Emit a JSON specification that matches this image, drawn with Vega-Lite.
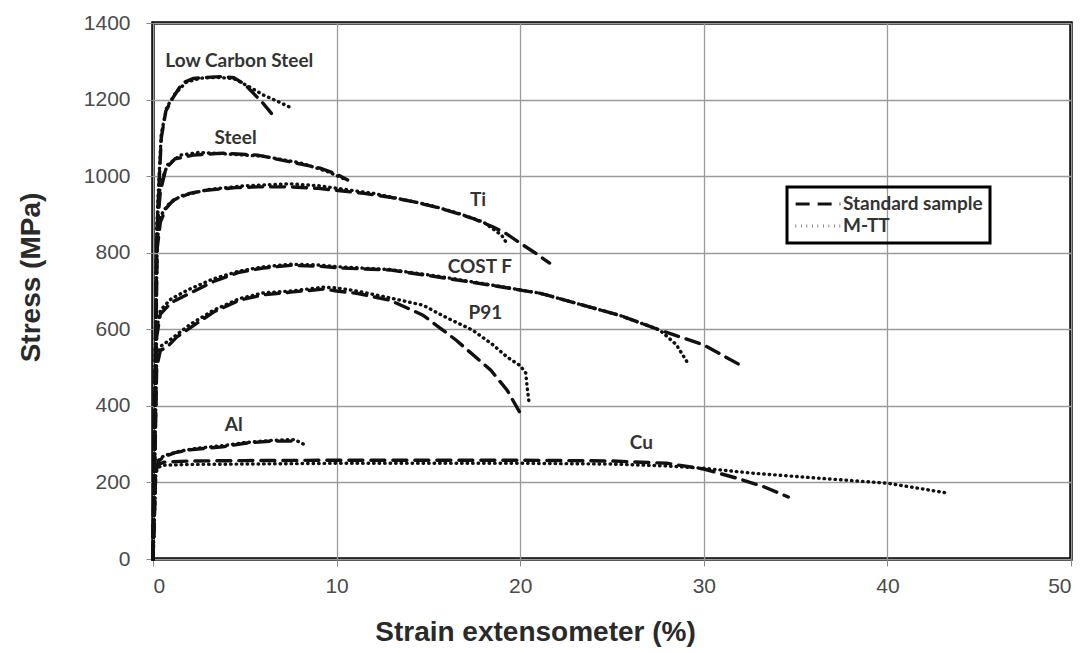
{
  "$schema": "https://vega.github.io/schema/vega-lite/v6.json",
  "width": 918,
  "height": 536,
  "autosize": "none",
  "padding": {"left": 153, "top": 23, "right": 16, "bottom": 94},
  "background": "white",
  "config": {
    "view": {"stroke": "#000", "strokeWidth": 3.5},
    "axis": {
      "gridColor": "#9a9a9a", "gridWidth": 1.3, "domain": false,
      "tickColor": "#888", "tickSize": 7, "tickWidth": 1,
      "labelFont": "Liberation Sans", "labelFontSize": 21, "labelColor": "#4a4a4a",
      "titleFont": "Liberation Sans", "titleFontWeight": "bold", "titleColor": "#2a2a2a"
    }
  },
  "datasets": {
    "curves": [
      {"material": "Low Carbon Steel", "sample": "Standard sample", "x": 0, "y": 0},
      {"material": "Low Carbon Steel", "sample": "Standard sample", "x": 0.25, "y": 900},
      {"material": "Low Carbon Steel", "sample": "Standard sample", "x": 0.45, "y": 1100},
      {"material": "Low Carbon Steel", "sample": "Standard sample", "x": 0.7, "y": 1170},
      {"material": "Low Carbon Steel", "sample": "Standard sample", "x": 1.1, "y": 1206},
      {"material": "Low Carbon Steel", "sample": "Standard sample", "x": 1.6, "y": 1243},
      {"material": "Low Carbon Steel", "sample": "Standard sample", "x": 2.2, "y": 1255},
      {"material": "Low Carbon Steel", "sample": "Standard sample", "x": 2.9, "y": 1258},
      {"material": "Low Carbon Steel", "sample": "Standard sample", "x": 3.7, "y": 1260},
      {"material": "Low Carbon Steel", "sample": "Standard sample", "x": 4.4, "y": 1257},
      {"material": "Low Carbon Steel", "sample": "Standard sample", "x": 5.0, "y": 1240},
      {"material": "Low Carbon Steel", "sample": "Standard sample", "x": 5.5, "y": 1215},
      {"material": "Low Carbon Steel", "sample": "Standard sample", "x": 6.0, "y": 1190},
      {"material": "Low Carbon Steel", "sample": "Standard sample", "x": 6.45, "y": 1164},
      {"material": "Low Carbon Steel", "sample": "M-TT", "x": 0, "y": 0},
      {"material": "Low Carbon Steel", "sample": "M-TT", "x": 0.25, "y": 920},
      {"material": "Low Carbon Steel", "sample": "M-TT", "x": 0.45, "y": 1110},
      {"material": "Low Carbon Steel", "sample": "M-TT", "x": 0.75, "y": 1180},
      {"material": "Low Carbon Steel", "sample": "M-TT", "x": 1.2, "y": 1215},
      {"material": "Low Carbon Steel", "sample": "M-TT", "x": 1.8, "y": 1245},
      {"material": "Low Carbon Steel", "sample": "M-TT", "x": 2.6, "y": 1256},
      {"material": "Low Carbon Steel", "sample": "M-TT", "x": 3.5, "y": 1258},
      {"material": "Low Carbon Steel", "sample": "M-TT", "x": 4.4, "y": 1255},
      {"material": "Low Carbon Steel", "sample": "M-TT", "x": 5.3, "y": 1232},
      {"material": "Low Carbon Steel", "sample": "M-TT", "x": 6.0, "y": 1212},
      {"material": "Low Carbon Steel", "sample": "M-TT", "x": 6.8, "y": 1195},
      {"material": "Low Carbon Steel", "sample": "M-TT", "x": 7.55, "y": 1178},

      {"material": "Steel", "sample": "Standard sample", "x": 0, "y": 0},
      {"material": "Steel", "sample": "Standard sample", "x": 0.2, "y": 850},
      {"material": "Steel", "sample": "Standard sample", "x": 0.4, "y": 960},
      {"material": "Steel", "sample": "Standard sample", "x": 0.7, "y": 1020},
      {"material": "Steel", "sample": "Standard sample", "x": 1.2, "y": 1045},
      {"material": "Steel", "sample": "Standard sample", "x": 2.2, "y": 1055},
      {"material": "Steel", "sample": "Standard sample", "x": 3.8, "y": 1060},
      {"material": "Steel", "sample": "Standard sample", "x": 5.7, "y": 1055},
      {"material": "Steel", "sample": "Standard sample", "x": 7.5, "y": 1037},
      {"material": "Steel", "sample": "Standard sample", "x": 9.1, "y": 1021},
      {"material": "Steel", "sample": "Standard sample", "x": 10.0, "y": 1005},
      {"material": "Steel", "sample": "Standard sample", "x": 10.6, "y": 990},
      {"material": "Steel", "sample": "M-TT", "x": 0, "y": 0},
      {"material": "Steel", "sample": "M-TT", "x": 0.2, "y": 870},
      {"material": "Steel", "sample": "M-TT", "x": 0.4, "y": 980},
      {"material": "Steel", "sample": "M-TT", "x": 0.8, "y": 1030},
      {"material": "Steel", "sample": "M-TT", "x": 1.5, "y": 1055},
      {"material": "Steel", "sample": "M-TT", "x": 2.5, "y": 1062},
      {"material": "Steel", "sample": "M-TT", "x": 4.0, "y": 1058},
      {"material": "Steel", "sample": "M-TT", "x": 6.0, "y": 1052},
      {"material": "Steel", "sample": "M-TT", "x": 8.0, "y": 1035},
      {"material": "Steel", "sample": "M-TT", "x": 9.5, "y": 1012},
      {"material": "Steel", "sample": "M-TT", "x": 10.4, "y": 993},

      {"material": "Ti", "sample": "Standard sample", "x": 0, "y": 0},
      {"material": "Ti", "sample": "Standard sample", "x": 0.2, "y": 800},
      {"material": "Ti", "sample": "Standard sample", "x": 0.4, "y": 880},
      {"material": "Ti", "sample": "Standard sample", "x": 0.7, "y": 915},
      {"material": "Ti", "sample": "Standard sample", "x": 1.1, "y": 937},
      {"material": "Ti", "sample": "Standard sample", "x": 2.0, "y": 955},
      {"material": "Ti", "sample": "Standard sample", "x": 2.9, "y": 963},
      {"material": "Ti", "sample": "Standard sample", "x": 4.5, "y": 970},
      {"material": "Ti", "sample": "Standard sample", "x": 5.7, "y": 972},
      {"material": "Ti", "sample": "Standard sample", "x": 7.5, "y": 972},
      {"material": "Ti", "sample": "Standard sample", "x": 9.0, "y": 968},
      {"material": "Ti", "sample": "Standard sample", "x": 10.2, "y": 962},
      {"material": "Ti", "sample": "Standard sample", "x": 11.5, "y": 955},
      {"material": "Ti", "sample": "Standard sample", "x": 12.9, "y": 945},
      {"material": "Ti", "sample": "Standard sample", "x": 14.3, "y": 932},
      {"material": "Ti", "sample": "Standard sample", "x": 15.6, "y": 917},
      {"material": "Ti", "sample": "Standard sample", "x": 17.4, "y": 890},
      {"material": "Ti", "sample": "Standard sample", "x": 18.5, "y": 868},
      {"material": "Ti", "sample": "Standard sample", "x": 19.3, "y": 848},
      {"material": "Ti", "sample": "Standard sample", "x": 20.0, "y": 825},
      {"material": "Ti", "sample": "Standard sample", "x": 20.8, "y": 800},
      {"material": "Ti", "sample": "Standard sample", "x": 21.6, "y": 773},
      {"material": "Ti", "sample": "M-TT", "x": 0, "y": 0},
      {"material": "Ti", "sample": "M-TT", "x": 0.2, "y": 820},
      {"material": "Ti", "sample": "M-TT", "x": 0.4, "y": 895},
      {"material": "Ti", "sample": "M-TT", "x": 0.8, "y": 925},
      {"material": "Ti", "sample": "M-TT", "x": 1.5, "y": 948},
      {"material": "Ti", "sample": "M-TT", "x": 3.0, "y": 965},
      {"material": "Ti", "sample": "M-TT", "x": 5.0, "y": 975},
      {"material": "Ti", "sample": "M-TT", "x": 7.5, "y": 980},
      {"material": "Ti", "sample": "M-TT", "x": 9.0, "y": 975},
      {"material": "Ti", "sample": "M-TT", "x": 10.5, "y": 965},
      {"material": "Ti", "sample": "M-TT", "x": 12.0, "y": 955},
      {"material": "Ti", "sample": "M-TT", "x": 13.5, "y": 940},
      {"material": "Ti", "sample": "M-TT", "x": 15.0, "y": 925},
      {"material": "Ti", "sample": "M-TT", "x": 16.5, "y": 905},
      {"material": "Ti", "sample": "M-TT", "x": 18.0, "y": 880},
      {"material": "Ti", "sample": "M-TT", "x": 19.0, "y": 845},
      {"material": "Ti", "sample": "M-TT", "x": 19.3, "y": 822},

      {"material": "COST F", "sample": "Standard sample", "x": 0, "y": 0},
      {"material": "COST F", "sample": "Standard sample", "x": 0.2, "y": 580},
      {"material": "COST F", "sample": "Standard sample", "x": 0.4, "y": 640},
      {"material": "COST F", "sample": "Standard sample", "x": 1.0, "y": 670},
      {"material": "COST F", "sample": "Standard sample", "x": 2.0, "y": 694},
      {"material": "COST F", "sample": "Standard sample", "x": 3.3, "y": 725},
      {"material": "COST F", "sample": "Standard sample", "x": 4.7, "y": 749},
      {"material": "COST F", "sample": "Standard sample", "x": 6.0, "y": 760},
      {"material": "COST F", "sample": "Standard sample", "x": 7.5, "y": 767},
      {"material": "COST F", "sample": "Standard sample", "x": 9.0, "y": 765},
      {"material": "COST F", "sample": "Standard sample", "x": 10.2, "y": 760},
      {"material": "COST F", "sample": "Standard sample", "x": 12.9, "y": 755},
      {"material": "COST F", "sample": "Standard sample", "x": 15.6, "y": 736},
      {"material": "COST F", "sample": "Standard sample", "x": 18.4, "y": 715},
      {"material": "COST F", "sample": "Standard sample", "x": 21.1, "y": 694},
      {"material": "COST F", "sample": "Standard sample", "x": 23.8, "y": 658},
      {"material": "COST F", "sample": "Standard sample", "x": 25.5, "y": 635},
      {"material": "COST F", "sample": "Standard sample", "x": 27.6, "y": 598},
      {"material": "COST F", "sample": "Standard sample", "x": 30.0, "y": 559},
      {"material": "COST F", "sample": "Standard sample", "x": 32.2, "y": 501},
      {"material": "COST F", "sample": "M-TT", "x": 0, "y": 0},
      {"material": "COST F", "sample": "M-TT", "x": 0.2, "y": 600},
      {"material": "COST F", "sample": "M-TT", "x": 0.4, "y": 650},
      {"material": "COST F", "sample": "M-TT", "x": 1.0, "y": 680},
      {"material": "COST F", "sample": "M-TT", "x": 2.0, "y": 705},
      {"material": "COST F", "sample": "M-TT", "x": 3.3, "y": 732},
      {"material": "COST F", "sample": "M-TT", "x": 4.7, "y": 752},
      {"material": "COST F", "sample": "M-TT", "x": 6.0, "y": 763},
      {"material": "COST F", "sample": "M-TT", "x": 7.5, "y": 770},
      {"material": "COST F", "sample": "M-TT", "x": 9.0, "y": 768},
      {"material": "COST F", "sample": "M-TT", "x": 10.2, "y": 763},
      {"material": "COST F", "sample": "M-TT", "x": 12.9, "y": 756},
      {"material": "COST F", "sample": "M-TT", "x": 15.6, "y": 738},
      {"material": "COST F", "sample": "M-TT", "x": 18.4, "y": 716},
      {"material": "COST F", "sample": "M-TT", "x": 21.1, "y": 694},
      {"material": "COST F", "sample": "M-TT", "x": 23.8, "y": 658},
      {"material": "COST F", "sample": "M-TT", "x": 25.5, "y": 635},
      {"material": "COST F", "sample": "M-TT", "x": 27.6, "y": 598},
      {"material": "COST F", "sample": "M-TT", "x": 28.5, "y": 560},
      {"material": "COST F", "sample": "M-TT", "x": 29.1, "y": 514},

      {"material": "P91", "sample": "Standard sample", "x": 0, "y": 0},
      {"material": "P91", "sample": "Standard sample", "x": 0.2, "y": 500},
      {"material": "P91", "sample": "Standard sample", "x": 0.4, "y": 545},
      {"material": "P91", "sample": "Standard sample", "x": 0.76, "y": 553},
      {"material": "P91", "sample": "Standard sample", "x": 1.3, "y": 580},
      {"material": "P91", "sample": "Standard sample", "x": 2.0, "y": 603},
      {"material": "P91", "sample": "Standard sample", "x": 3.3, "y": 645},
      {"material": "P91", "sample": "Standard sample", "x": 4.7, "y": 676},
      {"material": "P91", "sample": "Standard sample", "x": 6.0, "y": 690},
      {"material": "P91", "sample": "Standard sample", "x": 7.5, "y": 697},
      {"material": "P91", "sample": "Standard sample", "x": 9.3, "y": 705},
      {"material": "P91", "sample": "Standard sample", "x": 10.0, "y": 700},
      {"material": "P91", "sample": "Standard sample", "x": 11.1, "y": 694},
      {"material": "P91", "sample": "Standard sample", "x": 12.9, "y": 676},
      {"material": "P91", "sample": "Standard sample", "x": 14.7, "y": 637},
      {"material": "P91", "sample": "Standard sample", "x": 16.5, "y": 572},
      {"material": "P91", "sample": "Standard sample", "x": 18.4, "y": 493},
      {"material": "P91", "sample": "Standard sample", "x": 19.3, "y": 440},
      {"material": "P91", "sample": "Standard sample", "x": 20.0, "y": 381},
      {"material": "P91", "sample": "M-TT", "x": 0, "y": 0},
      {"material": "P91", "sample": "M-TT", "x": 0.2, "y": 520},
      {"material": "P91", "sample": "M-TT", "x": 0.4, "y": 555},
      {"material": "P91", "sample": "M-TT", "x": 1.0, "y": 575},
      {"material": "P91", "sample": "M-TT", "x": 2.0, "y": 612},
      {"material": "P91", "sample": "M-TT", "x": 3.3, "y": 650},
      {"material": "P91", "sample": "M-TT", "x": 4.7, "y": 680},
      {"material": "P91", "sample": "M-TT", "x": 6.0, "y": 695},
      {"material": "P91", "sample": "M-TT", "x": 7.5, "y": 700},
      {"material": "P91", "sample": "M-TT", "x": 9.3, "y": 710},
      {"material": "P91", "sample": "M-TT", "x": 10.0, "y": 708},
      {"material": "P91", "sample": "M-TT", "x": 11.1, "y": 700},
      {"material": "P91", "sample": "M-TT", "x": 12.9, "y": 682},
      {"material": "P91", "sample": "M-TT", "x": 14.7, "y": 663},
      {"material": "P91", "sample": "M-TT", "x": 16.0, "y": 630},
      {"material": "P91", "sample": "M-TT", "x": 17.4, "y": 598},
      {"material": "P91", "sample": "M-TT", "x": 18.5, "y": 560},
      {"material": "P91", "sample": "M-TT", "x": 19.3, "y": 527},
      {"material": "P91", "sample": "M-TT", "x": 20.0, "y": 505},
      {"material": "P91", "sample": "M-TT", "x": 20.3, "y": 486},
      {"material": "P91", "sample": "M-TT", "x": 20.4, "y": 440},
      {"material": "P91", "sample": "M-TT", "x": 20.5, "y": 402},

      {"material": "Al", "sample": "Standard sample", "x": 0, "y": 0},
      {"material": "Al", "sample": "Standard sample", "x": 0.15, "y": 230},
      {"material": "Al", "sample": "Standard sample", "x": 0.3, "y": 255},
      {"material": "Al", "sample": "Standard sample", "x": 0.55, "y": 266},
      {"material": "Al", "sample": "Standard sample", "x": 1.2, "y": 278},
      {"material": "Al", "sample": "Standard sample", "x": 2.0, "y": 285},
      {"material": "Al", "sample": "Standard sample", "x": 3.0, "y": 290},
      {"material": "Al", "sample": "Standard sample", "x": 3.8, "y": 293},
      {"material": "Al", "sample": "Standard sample", "x": 5.1, "y": 303},
      {"material": "Al", "sample": "Standard sample", "x": 6.5, "y": 308},
      {"material": "Al", "sample": "Standard sample", "x": 7.7, "y": 308},
      {"material": "Al", "sample": "M-TT", "x": 0, "y": 0},
      {"material": "Al", "sample": "M-TT", "x": 0.15, "y": 235},
      {"material": "Al", "sample": "M-TT", "x": 0.3, "y": 258},
      {"material": "Al", "sample": "M-TT", "x": 0.6, "y": 270},
      {"material": "Al", "sample": "M-TT", "x": 1.5, "y": 282},
      {"material": "Al", "sample": "M-TT", "x": 2.5, "y": 290},
      {"material": "Al", "sample": "M-TT", "x": 3.8, "y": 296},
      {"material": "Al", "sample": "M-TT", "x": 5.0, "y": 304},
      {"material": "Al", "sample": "M-TT", "x": 6.5, "y": 310},
      {"material": "Al", "sample": "M-TT", "x": 7.7, "y": 312},
      {"material": "Al", "sample": "M-TT", "x": 8.4, "y": 295},

      {"material": "Cu", "sample": "Standard sample", "x": 0, "y": 0},
      {"material": "Cu", "sample": "Standard sample", "x": 0.15, "y": 230},
      {"material": "Cu", "sample": "Standard sample", "x": 0.3, "y": 247},
      {"material": "Cu", "sample": "Standard sample", "x": 0.6, "y": 253},
      {"material": "Cu", "sample": "Standard sample", "x": 2.0, "y": 256},
      {"material": "Cu", "sample": "Standard sample", "x": 5.0, "y": 257},
      {"material": "Cu", "sample": "Standard sample", "x": 10.0, "y": 258},
      {"material": "Cu", "sample": "Standard sample", "x": 15.0, "y": 258},
      {"material": "Cu", "sample": "Standard sample", "x": 20.0, "y": 258},
      {"material": "Cu", "sample": "Standard sample", "x": 25.0, "y": 256},
      {"material": "Cu", "sample": "Standard sample", "x": 28.0, "y": 250},
      {"material": "Cu", "sample": "Standard sample", "x": 30.0, "y": 235},
      {"material": "Cu", "sample": "Standard sample", "x": 31.8, "y": 211},
      {"material": "Cu", "sample": "Standard sample", "x": 33.2, "y": 190},
      {"material": "Cu", "sample": "Standard sample", "x": 34.6, "y": 162},
      {"material": "Cu", "sample": "M-TT", "x": 0, "y": 0},
      {"material": "Cu", "sample": "M-TT", "x": 0.15, "y": 225},
      {"material": "Cu", "sample": "M-TT", "x": 0.3, "y": 240},
      {"material": "Cu", "sample": "M-TT", "x": 0.6, "y": 245},
      {"material": "Cu", "sample": "M-TT", "x": 2.0, "y": 247},
      {"material": "Cu", "sample": "M-TT", "x": 5.0, "y": 248},
      {"material": "Cu", "sample": "M-TT", "x": 10.0, "y": 250},
      {"material": "Cu", "sample": "M-TT", "x": 15.0, "y": 250},
      {"material": "Cu", "sample": "M-TT", "x": 20.0, "y": 250},
      {"material": "Cu", "sample": "M-TT", "x": 25.0, "y": 248},
      {"material": "Cu", "sample": "M-TT", "x": 28.0, "y": 243},
      {"material": "Cu", "sample": "M-TT", "x": 30.0, "y": 237},
      {"material": "Cu", "sample": "M-TT", "x": 32.7, "y": 224},
      {"material": "Cu", "sample": "M-TT", "x": 36.3, "y": 211},
      {"material": "Cu", "sample": "M-TT", "x": 40.0, "y": 198},
      {"material": "Cu", "sample": "M-TT", "x": 43.3, "y": 172}
    ],
    "labels": [
      {"text": "Low Carbon Steel", "x": 4.7, "y": 1300},
      {"text": "Steel", "x": 4.5, "y": 1099},
      {"text": "Ti", "x": 17.7, "y": 937},
      {"text": "COST F", "x": 17.8, "y": 762},
      {"text": "P91", "x": 18.1, "y": 642},
      {"text": "Al", "x": 4.4, "y": 350},
      {"text": "Cu", "x": 26.6, "y": 303}
    ]
  },
  "layer": [
    {
      "data": {"name": "curves"},
      "mark": {"type": "line", "color": "#111", "strokeWidth": 3.4, "strokeCap": "round"},
      "encoding": {
        "x": {"field": "x", "type": "quantitative",
              "scale": {"domain": [0, 50], "nice": false},
              "axis": {"values": [0, 10, 20, 30, 40, 50], "title": "Strain extensometer (%)",
                       "titleFontSize": 28, "titlePadding": 22, "labelPadding": 9,
                       "titleX": 382, "titleAnchor": "middle"}},
        "y": {"field": "y", "type": "quantitative",
              "scale": {"domain": [0, 1400], "nice": false},
              "axis": {"values": [0, 200, 400, 600, 800, 1000, 1200, 1400], "format": "d",
                       "title": "Stress (MPa)",
                       "titleFontSize": 28, "titlePadding": 38, "labelPadding": 16,
                       "titleY": 254, "titleAnchor": "middle"}},
        "detail": {"field": "material"},
        "strokeDash": {"field": "sample", "type": "nominal",
          "scale": {"domain": ["Standard sample", "M-TT"], "range": [[14, 8], [0.5, 5]]},
          "legend": {
            "title": null, "orient": "none", "legendX": 634, "legendY": 164,
            "strokeColor": "#000", "padding": 7, "symbolType": "stroke",
            "symbolSize": 2000, "symbolStrokeWidth": 3, "symbolStrokeColor": "#111",
            "clipHeight": 20,
            "labelFont": "Lato", "labelFontSize": 19, "labelFontWeight": "bold", "labelColor": "#333",
            "rowPadding": 2, "labelOffset": 1,
            "encode": {"legend": {"update": {"strokeWidth": {"value": 3}}}}
          }
        }
      }
    },
    {
      "data": {"name": "labels"},
      "mark": {"type": "text", "font": "Lato", "fontWeight": "bold", "fontSize": 19, "color": "#333"},
      "encoding": {
        "x": {"field": "x", "type": "quantitative"},
        "y": {"field": "y", "type": "quantitative"},
        "text": {"field": "text"}
      }
    }
  ]
}
